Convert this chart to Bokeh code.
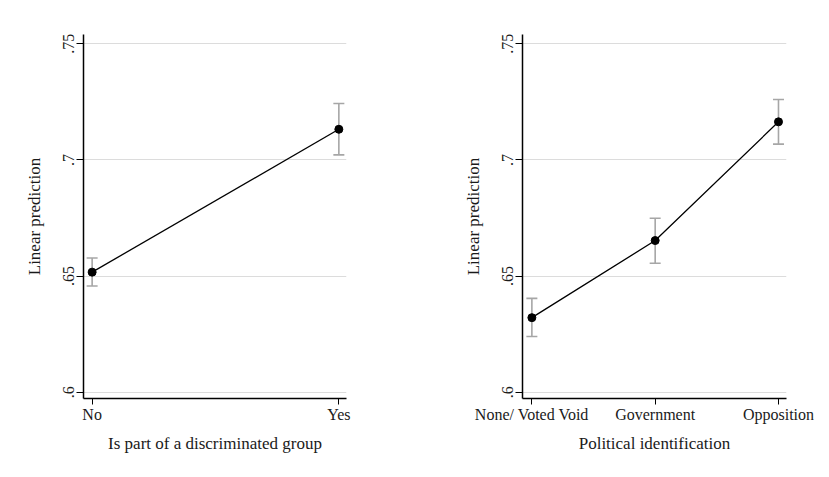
import math
from bokeh.plotting import figure
from bokeh.layouts import row
from bokeh.models import FixedTicker, ColumnDataSource, Whisker, TeeHead, Range1d
from bokeh.embed import file_html
from bokeh.resources import INLINE

# ---- data ----
left_categories = ["No", "Yes"]
left_mean = [0.6517, 0.7132]
left_lower = [0.6457, 0.7022]
left_upper = [0.6578, 0.7243]

right_categories = ["None/ Voted Void", "Government", "Opposition"]
right_mean = [0.6321, 0.6653, 0.7164]
right_lower = [0.6240, 0.6555, 0.7068]
right_upper = [0.6404, 0.6749, 0.7260]

y_ticks = [0.6, 0.65, 0.7, 0.75]
y_tick_labels = [".6", ".65", ".7", ".75"]

left_xlabel = "Is part of a discriminated group"
right_xlabel = "Political identification"
ylabel = "Linear prediction"

FONT = "Liberation Serif"
CI_COLOR = "#a6a6a6"
GRID_COLOR = "#dcdcdc"


def make_panel(cats, mean, lower, upper, xlabel, width, xr, mbl, mbr):
    p = figure(width=width, height=468, output_backend="svg", toolbar_location=None,
               x_range=Range1d(*xr), y_range=Range1d(0.5973, 0.7540),
               min_border_left=mbl, min_border_right=mbr,
               min_border_top=34, min_border_bottom=70)
    p.outline_line_color = None
    p.background_fill_color = "white"
    p.border_fill_color = "white"
    xs = list(range(len(cats)))
    src = ColumnDataSource(dict(x=xs, y=mean, lo=lower, hi=upper))

    w = Whisker(source=src, base="x", lower="lo", upper="hi",
                line_color=CI_COLOR, line_width=1.6,
                upper_head=TeeHead(size=11, line_color=CI_COLOR, line_width=1.6),
                lower_head=TeeHead(size=11, line_color=CI_COLOR, line_width=1.6))
    p.add_layout(w)
    p.line("x", "y", source=src, line_color="black", line_width=1.3)
    p.scatter("x", "y", source=src, size=8, fill_color="black", line_color="black")

    # grids
    p.xgrid.visible = False
    p.ygrid.ticker = FixedTicker(ticks=y_ticks)
    p.ygrid.grid_line_color = GRID_COLOR
    p.ygrid.grid_line_width = 1

    # x axis
    xa = p.xaxis[0]
    xa.ticker = FixedTicker(ticks=xs)
    xa.major_label_overrides = {i: c for i, c in zip(xs, cats)}
    xa.minor_tick_line_color = None
    xa.major_tick_in = 0
    xa.major_tick_out = 6
    xa.major_label_standoff = 1
    xa.axis_label = xlabel
    xa.axis_label_standoff = 8
    xa.axis_label_text_font_style = "normal"

    # y axis
    ya = p.yaxis[0]
    ya.ticker = FixedTicker(ticks=y_ticks)
    ya.major_label_overrides = {t: l for t, l in zip(y_ticks, y_tick_labels)}
    ya.major_label_orientation = "vertical"
    ya.minor_tick_line_color = None
    ya.major_tick_in = 0
    ya.major_tick_out = 7
    ya.major_label_standoff = 2
    ya.axis_label = ylabel
    ya.axis_label_standoff = 17
    ya.axis_label_text_font_style = "normal"

    for ax in (xa, ya):
        ax.axis_line_color = "black"
        ax.axis_line_width = 1.5
        ax.major_tick_line_color = "black"
        ax.major_tick_line_width = 1
        ax.major_label_text_font = FONT
        ax.major_label_text_font_size = "16px"
        ax.major_label_text_color = "#1a1a1a"
        ax.axis_label_text_font = FONT
        ax.axis_label_text_font_size = "17px"
        ax.axis_label_text_color = "#1a1a1a"
    return p


p1 = make_panel(left_categories, left_mean, left_lower, left_upper, left_xlabel,
                417, (-0.035, 1.031), 83, 71)
p2 = make_panel(right_categories, right_mean, right_lower, right_upper, right_xlabel,
                403, (-0.076, 2.065), 105, 34)

layout = row(p1, p2)
open("out.html", "w").write(file_html(layout, INLINE))
